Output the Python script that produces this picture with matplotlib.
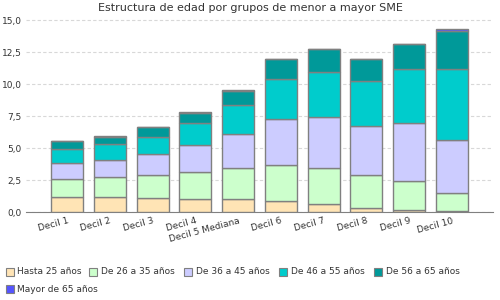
import numpy as np
import matplotlib

matplotlib.use("Agg")

import matplotlib.pyplot as plt
from matplotlib.patches import Rectangle
from matplotlib.ticker import FuncFormatter

# data
deciles = ["Decil 1", "Decil 2", "Decil 3", "Decil 4", "Decil 5 Mediana",
           "Decil 6", "Decil 7", "Decil 8", "Decil 9", "Decil 10"]
groups = ["Hasta 25 años", "De 26 a 35 años", "De 36 a 45 años",
          "De 46 a 55 años", "De 56 a 65 años", "Mayor de 65 años"]
hasta_25 = [1.17, 1.17, 1.09, 1.02, 1.02, 0.89, 0.65, 0.31, 0.16, 0.08]
de_26_35 = [1.41, 1.56, 1.80, 2.11, 2.42, 2.78, 2.79, 2.58, 2.26, 1.40]
de_36_45 = [1.25, 1.38, 1.69, 2.10, 2.71, 3.60, 3.98, 3.88, 4.53, 4.20]
de_46_55 = [1.09, 1.20, 1.33, 1.72, 2.21, 3.12, 3.52, 3.46, 4.22, 5.49]
de_56_65 = [0.63, 0.58, 0.73, 0.81, 1.14, 1.56, 1.79, 1.72, 1.98, 3.02]
mayor_65 = [0.02, 0.04, 0.01, 0.05, 0.05, 0.04, 0.01, 0.01, 0.01, 0.12]
colors = ["#FFE4B5", "#CCFFCC", "#CCCCFF", "#00CCCC", "#009999", "#5555FF"]

series = [hasta_25, de_26_35, de_36_45, de_46_55, de_56_65, mayor_65]

fig = plt.figure(figsize=(5, 3), dpi=100)
ax = fig.add_axes([0.052, 0.2923, 0.934, 0.6444])

x = np.arange(len(deciles))
bottom = np.zeros(len(deciles))
for vals, col in zip(series, colors):
    ax.bar(x, vals, width=0.75, bottom=bottom, color=col,
           edgecolor="#808080", linewidth=1.0, zorder=3)
    bottom += np.array(vals)

ax.set_xlim(-0.96, 9.96)
ax.set_ylim(0, 15.1)
ax.set_yticks(np.arange(0, 15.01, 2.5))
ax.yaxis.set_major_formatter(FuncFormatter(lambda v, p: f"{v:.1f}".replace(".", ",")))
ax.grid(axis="y", color="#D8D8D8", linestyle=(0, (3, 2)), linewidth=0.8, zorder=0)
for s in ["top", "right", "left"]:
    ax.spines[s].set_visible(False)
ax.spines["bottom"].set_color("#808080")
ax.tick_params(axis="y", length=0, pad=3, labelsize=6.5, labelcolor="#333333")
ax.tick_params(axis="x", length=0, pad=3)
ax.set_xticks(x)
ax.set_xticklabels(deciles, rotation=15, ha="right", rotation_mode="anchor",
                   fontsize=6.5, color="#333333")

fig.text(0.5, 0.972, "Estructura de edad por grupos de menor a mayor SME",
         ha="center", va="center", fontsize=8, color="#333333")

# legend drawn by hand: five items on the first row, one on the second
leg_x = [5.7, 89.3, 184.3, 279.3, 374.3, 5.7]
leg_y = [271.7, 271.7, 271.7, 271.7, 271.7, 289.3]
for lx, ly, lab, col in zip(leg_x, leg_y, groups, colors):
    fig.patches.append(Rectangle(((lx) / 500, 1 - (ly + 4) / 300), 8 / 500, 8 / 300,
                                 transform=fig.transFigure, facecolor=col,
                                 edgecolor="#808080", linewidth=0.8))
    fig.text((lx + 11.5) / 500, 1 - ly / 300, lab, ha="left", va="center",
             fontsize=6.5, color="#333333")

fig.savefig("out.png", dpi=100)
